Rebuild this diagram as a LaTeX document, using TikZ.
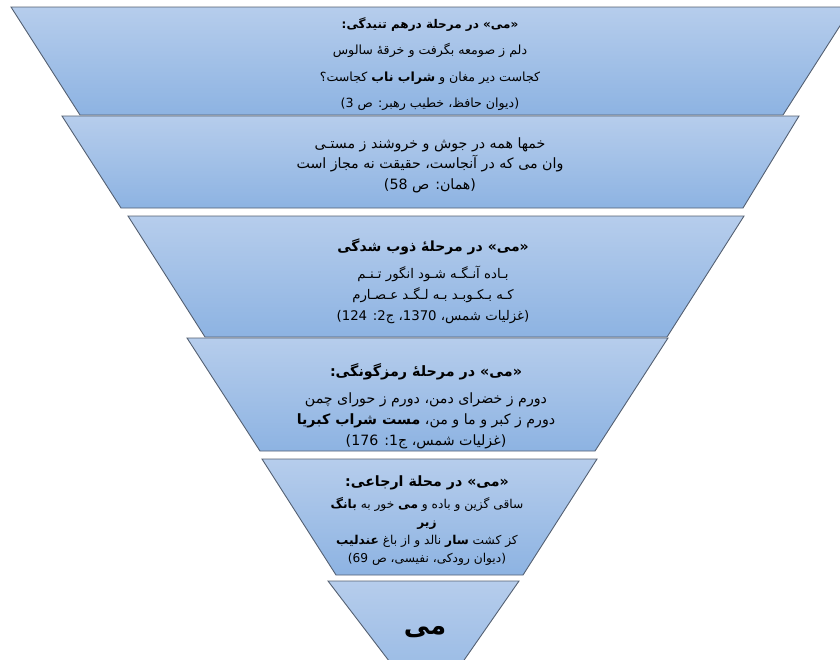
\documentclass[tikz,border=0pt]{standalone}
\usepackage{fontspec}
\newfontfamily\arabicfont[Script=Arabic]{DejaVu Sans}
\TeXXeTstate=1
\usepackage{xcolor}
\usepackage{tikz}
\usetikzlibrary{calc}

\definecolor{layertop}{RGB}{182,205,236}
\definecolor{layerbot}{RGB}{141,179,226}
\definecolor{layerline}{RGB}{84,96,114}

\begin{document}
\begin{tikzpicture}[x=1pt,y=-1pt]
  \tikzstyle{layer} = [draw=layerline,line width=0.9pt,top color=layertop,bottom color=layerbot]
  \tikzstyle{verse} = [align=center,inner sep=0pt]
  %
  \useasboundingbox (0,0) rectangle (840,659);
  \clip (0,0) rectangle (840,659);
  % First layer.
  \path[layer] (11,7) -- (852,7) -- (783,115) -- (80,115) -- cycle;
  \node[verse,font=\arabicfont\fontsize{12.6}{26.5}\selectfont] (stage1) at (430,64) {%
    \beginR{\fontsize{12}{26.5}\selectfont\bfseries «می» در مرحلة درهم تنیدگی:}\endR\\
    \beginR دلم ز صومعه بگرفت و خرقهٔ سالوس\endR\\
    \beginR کجاست دیر مغان و {\bfseries شراب ناب} کجاست؟\endR\\
    \beginR (دیوان حافظ، خطیب رهبر: ص 3)\endR};
  % Second layer.
  \path[layer] (62,116) -- (799,116) -- (743,208) -- (121,208) -- cycle;
  \node[verse,font=\arabicfont\fontsize{14.2}{20.5}\selectfont] (stage2) at (430,165) {%
    \beginR خمها همه در جوش و خروشند ز مستـی\endR\\
    \beginR وان می که در آنجاست، حقیقت نه مجاز است\endR\\
    \beginR (همان: ص 58)\endR};
  % Third layer.
  \path[layer] (128,216) -- (744,216) -- (667,337) -- (205,337) -- cycle;
  \node[verse,font=\arabicfont\fontsize{13.3}{21}\selectfont] (stage3) at (433,281) {%
    \beginR{\fontsize{14}{21}\selectfont\bfseries «می» در مرحلهٔ ذوب شدگی}\endR\\[6pt]
    \beginR بـاده آنـگـه شـود انگور تـنـم\endR\\
    \beginR کـه بـکـوبـد بـه لـگـد عـصـارم\endR\\
    \beginR (غزلیات شمس، 1370، ج2: 124)\endR};
  % Fourth layer.
  \path[layer] (187,338) -- (668,338) -- (595,451) -- (260,451) -- cycle;
  \node[verse,font=\arabicfont\fontsize{14.2}{21}\selectfont] (stage4) at (426,406) {%
    \beginR{\fontsize{14.3}{21}\selectfont\bfseries «می» در مرحلهٔ رمزگونگی:}\endR\\[6pt]
    \beginR دورم ز خضرای دمن، دورم ز حورای چمن\endR\\
    \beginR دورم ز کبر و ما و من، {\bfseries مست شراب کبریا}\endR\\
    \beginR (غزلیات شمس، ج1: 176)\endR};
  % Fifth layer.
  \path[layer] (262,459) -- (597,459) -- (523,575) -- (336,575) -- cycle;
  \node[verse,font=\arabicfont\fontsize{12.2}{18}\selectfont] (stage5) at (427,521) {%
    \beginR{\fontsize{14.2}{18}\selectfont\bfseries «می» در محلة ارجاعی:}\endR\\[4pt]
    \beginR ساقی گزین و باده و {\bfseries می} خور به {\bfseries بانگ}\endR\\
    \beginR{\bfseries زیر}\endR\\
    \beginR کز کشت {\bfseries سار} نالد و از باغ {\bfseries عندلیب}\endR\\
    \beginR (دیوان رودکی، نفیسی، ص 69)\endR};
  % Bottom layer.
  \path[layer] (328,581) -- (519,581) -- (428,712) -- cycle;
  \node[verse,font=\arabicfont\fontsize{26}{30}\selectfont\bfseries] (wine) at (425,632) {\beginR می\endR};
\end{tikzpicture}
\end{document}
